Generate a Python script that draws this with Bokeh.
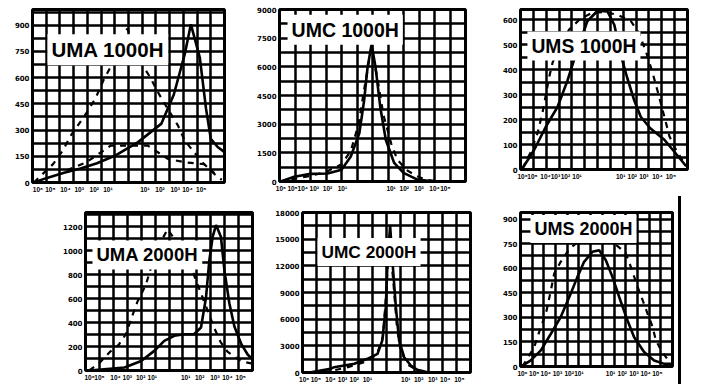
from bokeh.plotting import figure
from bokeh.models import Range1d, FixedTicker, Label, Div
from bokeh.layouts import row, column
from bokeh.embed import file_html
from bokeh.resources import INLINE

# ---------------- data ----------------
titles = ["UMA 1000H", "UMC 1000H", "UMS 1000H", "UMA 2000H", "UMC 2000H", "UMS 2000H"]

xlabels_left = ["10⁶", "10⁵", "10⁴", "10³", "10²", "10¹"]
xlabels_right = ["10¹", "10²", "10³", "10⁴", "10⁵"]

yticks_uma1000 = [0, 150, 300, 450, 600, 750, 900]
yticks_umc1000 = [0, 1500, 3000, 4500, 6000, 7500, 9000]
yticks_ums1000 = [0, 100, 200, 300, 400, 500, 600]
yticks_uma2000 = [0, 200, 400, 600, 800, 1000, 1200]
yticks_umc2000 = [0, 3000, 6000, 9000, 12000, 15000, 18000]
yticks_ums2000 = [0, 150, 300, 450, 600, 750, 900]

# UMA 1000H
uma1000_solid_x = [0.1, 1.0, 2.3, 3.5, 4.7, 6.0, 7.7, 9.4, 10.3, 11.1, 11.55, 12.2, 12.65, 13.0, 13.5, 14.0]
uma1000_solid_y = [0, 25, 56, 80, 110, 153, 231, 337, 502, 734, 905, 715, 424, 250, 203, 174]
uma1000_dash_x = [0.1, 0.7, 1.5, 2.2, 2.8, 4.0, 4.6, 5.2, 5.8, 6.4, 6.9, 7.4, 7.9, 8.6, 9.1, 9.7, 10.6, 11.1, 11.8, 12.4, 13.3, 13.8]
uma1000_dash_y = [0, 46, 105, 182, 269, 405, 483, 589, 676, 800, 880, 800, 686, 599, 523, 443, 327, 240, 172, 114, 46, 15]
uma1000_dash2_x = [2.5, 3.9, 5.7, 7.2, 8.4, 9.9, 11.3, 12.5, 13.5]
uma1000_dash2_y = [70, 114, 211, 211, 211, 134, 114, 105, 38]

# UMC 1000H
umc1000_solid_x = [0.08, 0.95, 2.0, 3.1, 4.0, 4.6, 5.15, 5.46, 5.68, 5.94, 6.2, 6.5, 6.86, 7.4, 8.0, 8.9, 10.0]
umc1000_solid_y = [0, 250, 400, 420, 620, 1310, 2520, 4240, 5960, 7170, 5960, 3900, 2170, 970, 450, 100, 0]
umc1000_dash_x = [0.0, 1.0, 2.0, 3.0, 4.0, 4.6, 5.1, 5.5, 5.9, 6.3, 6.7, 7.2, 7.6, 8.2, 8.8, 9.5, 10.5]
umc1000_dash_y = [0, 150, 300, 500, 900, 1600, 3000, 5000, 6900, 5500, 3500, 2000, 1150, 600, 300, 80, 0]

# UMS 1000H
ums1000_solid_x = [0.16, 1.07, 1.97, 2.88, 3.66, 4.18, 4.7, 5.2, 6.0, 6.77, 7.3, 7.9, 8.3, 8.85, 9.36, 10.1, 11.2, 11.96, 12.9]
ums1000_solid_y = [5, 79, 171, 250, 356, 441, 520, 593, 635, 632, 579, 441, 368, 277, 211, 165, 119, 72, 13]
ums1000_dash_x = [0.16, 0.8, 1.32, 1.7, 2.23, 2.5, 3.0, 3.79, 4.6, 5.5, 6.5, 7.55, 8.6, 9.2, 9.75, 10.27, 10.66, 11.2, 11.6, 11.96, 12.8]
ums1000_dash_y = [5, 70, 145, 224, 369, 428, 490, 560, 600, 625, 630, 619, 593, 547, 474, 389, 316, 211, 132, 92, 20]

# UMA 2000H
uma2000_solid_x = [0.27, 2.8, 4.0, 4.94, 5.66, 6.38, 7.1, 7.8, 8.3, 8.66, 8.9, 9.14, 9.38, 9.73, 9.98, 10.34, 10.7, 11.2, 11.65, 12.0]
uma2000_solid_y = [0, 25, 80, 164, 248, 290, 303, 303, 359, 610, 922, 1118, 1215, 1118, 838, 560, 368, 220, 134, 94]
uma2000_dash_x = [0.27, 0.98, 1.8, 2.4, 2.9, 3.4, 3.74, 4.34, 4.7, 5.3, 5.9, 6.5, 7.1, 7.7, 8.06, 8.8, 9.26, 9.7, 10.2, 10.7, 11.3, 11.9]
uma2000_dash_y = [0, 61, 160, 217, 303, 468, 577, 716, 857, 1050, 1180, 1080, 941, 827, 717, 493, 353, 240, 157, 115, 73, 60]

# UMC 2000H
umc2000_solid_x = [0.5, 2.0, 2.26, 3.7, 4.64, 5.36, 5.7, 5.95, 6.07, 6.26, 6.43, 6.67, 6.9, 7.26, 7.74, 8.2, 9.0]
umc2000_solid_y = [0, 410, 600, 980, 1540, 2100, 3600, 7350, 12400, 16500, 12400, 7350, 3600, 1720, 790, 300, 0]
umc2000_dash_x = [1.5, 3.0, 4.5, 5.3, 5.75, 5.98, 6.12, 6.3, 6.5, 6.75, 7.0, 7.5, 8.5]
umc2000_dash_y = [0, 500, 1200, 2000, 4000, 9000, 13000, 13500, 10000, 5000, 2500, 900, 0]

# UMS 2000H
ums2000_solid_x = [0.17, 0.88, 1.74, 2.6, 3.44, 4.3, 4.87, 5.44, 6.15, 6.73, 7.3, 7.86, 8.44, 9.15, 9.72, 10.57, 11.43, 12.3, 13.0]
ums2000_solid_y = [6, 37, 98, 200, 302, 445, 547, 639, 700, 710, 649, 547, 424, 281, 179, 88, 37, 16, 16]
ums2000_dash_x = [0.17, 1.17, 1.74, 2.17, 2.6, 2.88, 3.44, 4.2, 5.2, 6.2, 7.3, 8.3, 8.99, 9.43, 10.0, 10.43, 10.85, 11.28, 11.57, 12.0, 12.6, 13.0]
ums2000_dash_y = [0, 118, 241, 322, 465, 567, 639, 720, 775, 790, 775, 735, 692, 610, 489, 408, 326, 245, 163, 102, 41, 20]

# ---------------- layout / style config ----------------
TITLE_FONT = "Liberation Sans"
TICK_FONT = "DejaVu Sans"
XTICK_FONT = "Liberation Sans"

panels = [
    dict(title=titles[0], yticks=yticks_uma1000, ymax=990, ygrid=75, ncols=14,
         xt=[0.4, 1.3, 2.4, 3.4, 4.5, 5.5, 8.2, 9.3, 10.4, 11.3, 12.3],
         lines=[(uma1000_solid_x, uma1000_solid_y, "solid"), (uma1000_dash_x, uma1000_dash_y, "dash"),
                (uma1000_dash2_x, uma1000_dash2_y, "dash")],
         lab=(1.09, 759, 20.5), fw=192, fh=173, bl=32, br=10, bt=9, bb=14),
    dict(title=titles[1], yticks=yticks_umc1000, ymax=9000, ygrid=750, ncols=12,
         xt=[0.09, 0.84, 1.5, 2.24, 3.1, 4.06, 7.2, 8.05, 9.0, 10.0, 10.7],
         lines=[(umc1000_solid_x, umc1000_solid_y, "solid"), (umc1000_dash_x, umc1000_dash_y, "dash")],
         lab=(0.52, 7940, 19.5), fw=186, fh=172, bl=45, br=10, bt=7, bb=17),
    dict(title=titles[2], yticks=yticks_ums1000, ymax=640, ygrid=50, ncols=13,
         xt=[0.16, 0.93, 1.95, 2.72, 3.5, 4.4, 7.8, 8.7, 9.6, 10.66, 11.7],
         lines=[(ums1000_solid_x, ums1000_solid_y, "solid"), (ums1000_dash_x, ums1000_dash_y, "dash")],
         lab=(0.54, 494, 19.3), fw=167, fh=160, bl=45, br=3, bt=7, bb=29),
    dict(title=titles[3], yticks=yticks_uma2000, ymax=1320, ygrid=100, ncols=12,
         xt=[0.29, 1.0, 2.16, 3.0, 3.96, 4.8, 7.2, 8.2, 9.3, 10.2, 11.15],
         lines=[(uma2000_solid_x, uma2000_solid_y, "solid"), (uma2000_dash_x, uma2000_dash_y, "dash")],
         lab=(0.5, 965, 18.5), fw=167, fh=158, bl=85, br=10, bt=16, bb=14),
    dict(title=titles[4], yticks=yticks_umc2000, ymax=18000, ygrid=1500, ncols=12,
         xt=[0.12, 0.95, 2.0, 2.86, 3.7, 4.64, 7.38, 8.3, 9.3, 10.2, 11.2],
         lines=[(umc2000_solid_x, umc2000_solid_y, "solid"), (umc2000_dash_x, umc2000_dash_y, "dash")],
         lab=(1.07, 13556, 17.3), fw=168, fh=160, bl=40, br=10, bt=13, bb=15),
    dict(title=titles[5], yticks=yticks_ums2000, ymax=940, ygrid=75, ncols=13,
         xt=[0.17, 1.17, 2.16, 3.16, 4.16, 5.0, 7.7, 8.7, 9.7, 10.7, 11.7],
         lines=[(ums2000_solid_x, ums2000_solid_y, "solid"), (ums2000_dash_x, ums2000_dash_y, "dash")],
         lab=(0.85, 839, 18), fw=152, fh=154, bl=40, br=6, bt=13, bb=21),
]


def make_panel(cfg):
    p = figure(frame_width=cfg["fw"], frame_height=cfg["fh"],
               min_border_left=cfg["bl"], min_border_right=cfg["br"],
               min_border_top=cfg["bt"], min_border_bottom=cfg["bb"],
               x_range=Range1d(0, cfg["ncols"]), y_range=Range1d(0, cfg["ymax"]),
               output_backend="svg", toolbar_location=None,
               background_fill_color="white", border_fill_color="white")
    p.outline_line_color = "black"
    p.outline_line_width = 3
    # grid
    p.xgrid.ticker = FixedTicker(ticks=list(range(1, cfg["ncols"])))
    n_rows = int(cfg["ymax"] // cfg["ygrid"])
    p.ygrid.ticker = FixedTicker(ticks=[cfg["ygrid"] * k for k in range(1, n_rows + 1)
                                        if cfg["ygrid"] * k < cfg["ymax"]])
    for g in (p.xgrid, p.ygrid):
        g.grid_line_color = "black"
        g.grid_line_width = 2.5
        g.grid_line_alpha = 1
    # axes
    for ax in (p.xaxis, p.yaxis):
        ax.axis_line_color = None
        ax.major_tick_line_color = None
        ax.minor_tick_line_color = None
        ax.major_tick_out = 0
        ax.major_tick_in = 0
        ax.major_label_text_font_style = "bold"
        ax.major_label_text_color = "black"
        ax.major_label_standoff = 3
    p.yaxis.major_label_text_font = TICK_FONT
    p.yaxis.major_label_text_font_size = "7px"
    p.xaxis.major_label_text_font = XTICK_FONT
    p.xaxis.major_label_text_font_size = "6.5px"
    p.yaxis.ticker = FixedTicker(ticks=cfg["yticks"])
    xl = xlabels_left + xlabels_right
    p.xaxis.ticker = FixedTicker(ticks=cfg["xt"])
    p.xaxis.major_label_overrides = {t: l for t, l in zip(cfg["xt"], xl)}
    # curves
    for xs, ys, kind in cfg["lines"]:
        if kind == "solid":
            p.line(xs, ys, line_color="black", line_width=2.6)
        else:
            p.line(xs, ys, line_color="black", line_width=2.2, line_dash="6 6")
    lx, ly, fs = cfg["lab"]
    p.add_layout(Label(x=lx, y=ly, text=cfg["title"], text_font=TITLE_FONT,
                       text_font_style="bold", text_font_size=f"{fs}px",
                       text_color="black", text_baseline="middle", text_align="left",
                       background_fill_color="white", background_fill_alpha=1,
                       padding=4))
    return p


figs = [make_panel(c) for c in panels]
bar = Div(width=3, height=188, styles={"background-color": "black"}, margin=(0, 0, 0, 0))

layout = column(row(figs[0], figs[1], figs[2]),
                row(figs[3], figs[4], figs[5], bar))

html = file_html(layout, INLINE, title="UM 1000H / 2000H")
html = html.replace("</head>", "<style>html,body{overflow:hidden;}</style></head>", 1)
open("out.html", "w").write(html)
